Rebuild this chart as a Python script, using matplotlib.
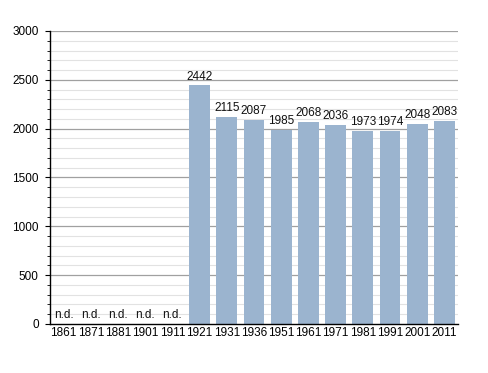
import matplotlib
matplotlib.use("Agg")
import matplotlib.pyplot as plt
import numpy as np

plt.rcParams["font.family"] = ["Liberation Sans", "DejaVu Sans"]

years = ["1861", "1871", "1881", "1901", "1911", "1921", "1931", "1936",
         "1951", "1961", "1971", "1981", "1991", "2001", "2011"]
population = [None, None, None, None, None, 2442, 2115, 2087,
              1985, 2068, 2036, 1973, 1974, 2048, 2083]

fig = plt.figure(figsize=(4.88, 3.73), dpi=100)
ax = fig.add_axes([0.1025, 0.1314, 0.836, 0.7855])

x = np.arange(len(years))
vals = [v if v is not None else 0 for v in population]
ax.set_xlim(-0.5, len(years) - 0.5)
ax.set_ylim(0, 3000)

# grid
for y in range(100, 3001, 100):
    if y % 500 == 0:
        ax.axhline(y, color="#a0a0a0", lw=0.9, zorder=0)
    else:
        ax.axhline(y, color="#e2e2e2", lw=0.8, zorder=0)

ax.bar(x, vals, width=0.77, color="#9bb4cf", zorder=2)

fs = 8.5
for xi, v in zip(x, population):
    if v is None:
        ax.text(xi, 35, "n.d.", ha="center", va="bottom", fontsize=fs, color="#111111")
    else:
        ax.text(xi, v + 30, str(v), ha="center", va="bottom", fontsize=fs, color="#111111")

ax.set_xticks(x)
ax.set_xticklabels(years, fontsize=fs)
ax.set_yticks(range(0, 3001, 500))
ax.set_yticklabels([str(v) for v in range(0, 3001, 500)], fontsize=fs)
ax.set_yticks(range(0, 3001, 100), minor=True)
ax.tick_params(axis="x", length=0, pad=2)
ax.tick_params(axis="y", which="major", length=3.6, width=0.8, pad=4.5)
ax.tick_params(axis="y", which="minor", length=2.2, width=0.6)
for s in ["top", "right"]:
    ax.spines[s].set_visible(False)
ax.spines["left"].set_linewidth(1.0)
ax.spines["bottom"].set_linewidth(1.0)

fig.savefig("out.png", dpi=100)
